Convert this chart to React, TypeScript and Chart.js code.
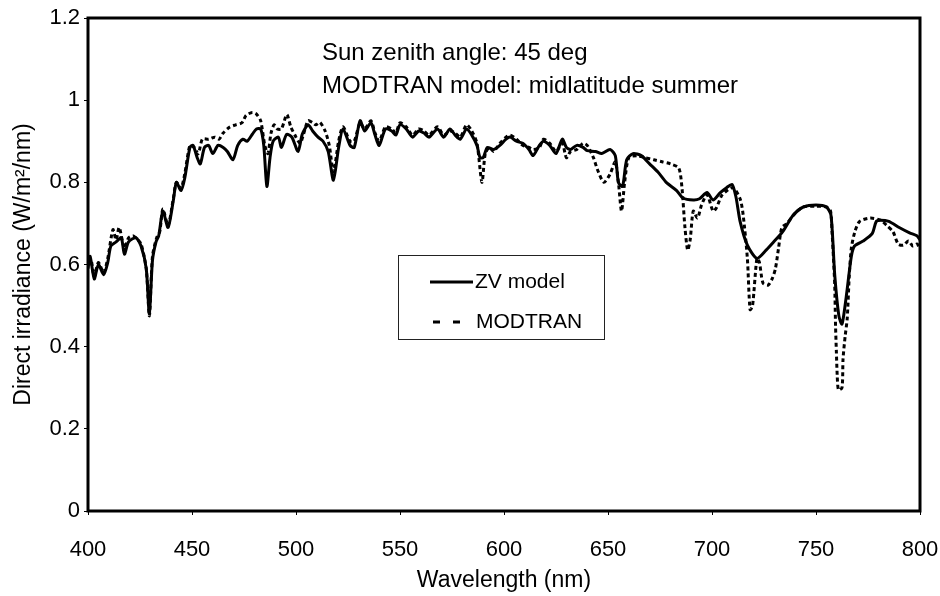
import React, { useEffect, useRef } from "react";
import { Chart, registerables } from "chart.js";

Chart.register(...registerables);

// ZV model (solid line)
const zvWavelength = [
  400, 401, 403, 405, 407.5, 409.5, 411, 413.5, 416, 417.5, 419.5, 423, 425.5, 428, 429.5, 431, 432.7, 434, 436, 438.5,
  441, 442.5, 444.7, 446.5, 449, 450.5, 452.5, 454, 456, 458, 460, 462.5, 465, 467, 469.7, 472, 474.5, 476.5, 479, 481,
  483, 484.5, 486, 487.5, 489, 491.5, 493, 495.5, 498, 501, 503, 505.8, 508, 510.6, 513, 515.5, 518, 520.5, 522.6, 526,
  528, 530.8, 533, 536, 538, 540, 543, 546, 548, 550, 553, 556, 559, 561.5, 564, 568, 571, 574, 576.5, 579,
  582, 584.5, 587, 588.5, 590, 592, 595, 598, 601, 603, 606, 609, 612, 614, 617, 619, 622, 625, 628, 630,
  632, 635, 638, 640, 644, 647, 651, 653.5, 655, 657, 659, 662, 666, 670, 674, 678, 683, 686, 691, 694,
  697.6, 700.5, 704, 707, 709.6, 711.5, 713.5, 717, 721.6, 726, 730, 734, 739, 744, 750, 755, 757.2, 759, 761, 762.5,
  764.5, 767, 768.5, 772.6, 777, 779, 781, 785, 790, 795, 798.5, 800,
];
const zvIrradiance = [
  0.59, 0.62, 0.565, 0.6, 0.575, 0.605, 0.645, 0.655, 0.665, 0.625, 0.655, 0.665, 0.645, 0.59, 0.48, 0.61, 0.655, 0.67, 0.73, 0.69,
  0.755, 0.8, 0.78, 0.81, 0.885, 0.89, 0.86, 0.845, 0.885, 0.89, 0.87, 0.89, 0.885, 0.875, 0.855, 0.89, 0.905, 0.9, 0.917, 0.93,
  0.93, 0.89, 0.79, 0.86, 0.9, 0.91, 0.885, 0.917, 0.91, 0.875, 0.917, 0.94, 0.925, 0.91, 0.9, 0.875, 0.805, 0.885, 0.93, 0.89,
  0.885, 0.95, 0.925, 0.945, 0.915, 0.89, 0.93, 0.925, 0.915, 0.94, 0.93, 0.91, 0.925, 0.92, 0.91, 0.93, 0.91, 0.93, 0.915, 0.905,
  0.93, 0.915, 0.89, 0.86, 0.86, 0.885, 0.88, 0.89, 0.905, 0.91, 0.9, 0.895, 0.88, 0.865, 0.89, 0.9, 0.89, 0.87, 0.905, 0.885,
  0.88, 0.89, 0.885, 0.877, 0.875, 0.87, 0.88, 0.865, 0.8, 0.79, 0.855, 0.87, 0.865, 0.845, 0.825, 0.8, 0.78, 0.762, 0.757, 0.76,
  0.775, 0.757, 0.775, 0.787, 0.795, 0.765, 0.705, 0.647, 0.615, 0.635, 0.657, 0.68, 0.72, 0.74, 0.745, 0.74, 0.72, 0.575, 0.475, 0.455,
  0.52, 0.62, 0.645, 0.657, 0.675, 0.705, 0.708, 0.705, 0.69, 0.677, 0.67, 0.66,
];

// MODTRAN (dashed line)
const modWavelength = [
  400, 401.5, 403, 405, 407.5, 409.5, 412, 413.5, 415, 417.5, 419.5, 421.6, 423, 425.5, 428, 429.5, 431, 433, 434.5, 436,
  438.5, 441, 442.5, 444.7, 446.5, 449, 451, 453, 455, 458, 461, 463, 465, 468, 471, 474, 476, 479, 481, 483,
  485, 486.5, 488, 489.5, 491, 493, 495.6, 497.5, 500, 502, 503.5, 505.8, 508, 509.5, 511.5, 514, 516, 518, 520.5, 522.6,
  526, 528, 530.8, 533, 536, 538, 540, 543, 546, 548, 550, 553, 556, 559, 561.5, 564, 568, 571, 574, 576.5,
  579, 582, 584.5, 587, 589.4, 591, 593, 595, 598, 601, 603, 606, 609, 612, 614, 617, 619, 622, 625, 628,
  630, 632, 635, 638, 640, 643, 645, 648, 651, 653.5, 655, 656.5, 658, 660, 664, 668, 672, 676, 680, 684,
  685.5, 687, 688.3, 689.5, 691, 693, 695, 697.6, 700.5, 702, 705, 710, 713.5, 715, 717, 718.3, 719.5, 721.6, 722.8, 724.5,
  727, 729, 730.5, 732, 733.6, 736, 740, 744, 750, 755, 757, 757.7, 758.4, 759, 759.4, 759.8, 760.2, 760.8, 762.5, 763,
  764, 765, 766, 767, 768.7, 771, 776, 781, 784, 787, 789.5, 792, 794.5, 796.6, 798.5, 800,
];
const modIrradiance = [
  0.6, 0.61, 0.57, 0.605, 0.58, 0.615, 0.685, 0.66, 0.69, 0.64, 0.665, 0.67, 0.665, 0.65, 0.59, 0.475, 0.62, 0.665, 0.68, 0.735,
  0.695, 0.76, 0.8, 0.785, 0.82, 0.89, 0.885, 0.87, 0.905, 0.905, 0.91, 0.905, 0.92, 0.934, 0.94, 0.945, 0.963, 0.97, 0.966, 0.95,
  0.89, 0.87, 0.92, 0.94, 0.93, 0.93, 0.965, 0.935, 0.91, 0.895, 0.915, 0.95, 0.945, 0.94, 0.946, 0.925, 0.89, 0.825, 0.9, 0.935,
  0.9, 0.9, 0.945, 0.93, 0.95, 0.92, 0.9, 0.935, 0.93, 0.92, 0.945, 0.935, 0.915, 0.93, 0.925, 0.915, 0.935, 0.915, 0.925, 0.92,
  0.91, 0.94, 0.925, 0.895, 0.8, 0.87, 0.885, 0.875, 0.895, 0.91, 0.915, 0.905, 0.89, 0.885, 0.88, 0.885, 0.905, 0.895, 0.875, 0.895,
  0.86, 0.875, 0.88, 0.895, 0.89, 0.86, 0.83, 0.8, 0.82, 0.85, 0.8, 0.73, 0.8, 0.86, 0.865, 0.86, 0.855, 0.85, 0.845, 0.835,
  0.79, 0.69, 0.635, 0.66, 0.73, 0.713, 0.745, 0.77, 0.73, 0.737, 0.77, 0.787, 0.76, 0.72, 0.615, 0.49, 0.5, 0.615, 0.605, 0.555,
  0.55, 0.566, 0.59, 0.64, 0.69, 0.7, 0.725, 0.74, 0.742, 0.74, 0.73, 0.68, 0.615, 0.55, 0.45, 0.387, 0.33, 0.295, 0.3, 0.37,
  0.425, 0.468, 0.573, 0.64, 0.68, 0.705, 0.713, 0.708, 0.695, 0.68, 0.65, 0.647, 0.657, 0.645, 0.65, 0.64,
];

const xTicks = [400, 450, 500, 550, 600, 650, 700, 750, 800];
const yTicks = [0, 0.2, 0.4, 0.6, 0.8, 1, 1.2];
const seriesNames = ["ZV model", "MODTRAN"];
const noteLines = ["Sun zenith angle: 45 deg", "MODTRAN model: midlatitude summer"];

const FONT = "'Liberation Sans', Arial, sans-serif";

const framePlugin = {
  id: "frameAndNotes",
  afterDraw(chart: any) {
    const { ctx, chartArea } = chart;
    const { left, top, right, bottom } = chartArea;
    ctx.save();
    // frame
    ctx.strokeStyle = "#000";
    ctx.lineWidth = 3;
    ctx.setLineDash([]);
    ctx.strokeRect(left, top, right - left, bottom - top);

    // notes
    ctx.fillStyle = "#000";
    ctx.font = `24px ${FONT}`;
    ctx.textBaseline = "alphabetic";
    ctx.textAlign = "left";
    ctx.fillText(noteLines[0], 322, 60);
    ctx.fillText(noteLines[1], 322, 93);

    // legend
    const lx = 398, ly = 255, lw = 206, lh = 84;
    ctx.lineWidth = 1;
    ctx.strokeStyle = "#222";
    ctx.strokeRect(lx + 0.5, ly + 0.5, lw, lh);
    ctx.font = `21px ${FONT}`;
    ctx.textBaseline = "middle";
    ctx.lineWidth = 3;
    ctx.strokeStyle = "#000";
    ctx.beginPath();
    ctx.moveTo(430, 282);
    ctx.lineTo(473, 282);
    ctx.stroke();
    ctx.fillText(seriesNames[0], 475, 282);
    ctx.setLineDash([7, 13]);
    ctx.beginPath();
    ctx.moveTo(433, 322);
    ctx.lineTo(473, 322);
    ctx.stroke();
    ctx.setLineDash([]);
    ctx.fillText(seriesNames[1], 476, 322);
    ctx.restore();
  },
};

export default function App() {
  const canvasRef = useRef<HTMLCanvasElement | null>(null);

  useEffect(() => {
    document.body.style.margin = "0";
    const canvas = canvasRef.current;
    if (!canvas) return;
    const chart = new Chart(canvas, {
      type: "line",
      data: {
        datasets: [
          {
            label: seriesNames[0],
            data: zvWavelength.map((x, i) => ({ x, y: zvIrradiance[i] })),
            borderColor: "#000",
            borderWidth: 3,
            pointRadius: 0,
            tension: 0.25,
            fill: false,
          },
          {
            label: seriesNames[1],
            data: modWavelength.map((x, i) => ({ x, y: modIrradiance[i] })),
            borderColor: "#000",
            borderWidth: 3,
            borderDash: [4, 3],
            pointRadius: 0,
            tension: 0.25,
            fill: false,
          },
        ],
      },
      options: {
        animation: false,
        responsive: false,
        maintainAspectRatio: false,
        layout: { padding: { top: 18, right: 20, left: 0, bottom: 0 } },
        plugins: {
          legend: { display: false },
          tooltip: { enabled: false },
        },
        scales: {
          x: {
            type: "linear",
            min: 400,
            max: 800,
            afterBuildTicks: (scale: any) => {
              scale.ticks = xTicks.map((v) => ({ value: v }));
            },
            afterFit: (scale: any) => {
              scale.height = 85;
              scale.paddingLeft = 0;
              scale.paddingRight = 0;
            },
            border: { display: false },
            grid: {
              display: true,
              drawOnChartArea: false,
              drawTicks: true,
              tickLength: 4,
              color: "#000",
              lineWidth: 1,
            },
            ticks: {
              color: "#000",
              font: { family: FONT, size: 22 },
              padding: 22,
              maxRotation: 0,
              callback: (v: any) => String(v),
            },
            title: {
              display: true,
              text: "Wavelength (nm)",
              color: "#000",
              font: { family: FONT, size: 23 },
              padding: { top: 0, bottom: 2 },
            },
          },
          y: {
            type: "linear",
            min: 0,
            max: 1.2,
            afterBuildTicks: (scale: any) => {
              scale.ticks = yTicks.map((v) => ({ value: v }));
            },
            afterFit: (scale: any) => {
              scale.width = 88;
              scale.paddingTop = 0;
              scale.paddingBottom = 0;
            },
            border: { display: false },
            grid: {
              display: true,
              drawOnChartArea: false,
              drawTicks: true,
              tickLength: 4,
              color: "#000",
              lineWidth: 1,
            },
            ticks: {
              color: "#000",
              font: { family: FONT, size: 22 },
              padding: 4,
              callback: (v: any) => String(Number(Number(v).toFixed(1))),
            },
            title: {
              display: true,
              text: "Direct irradiance (W/m²/nm)",
              color: "#000",
              font: { family: FONT, size: 23 },
              padding: { top: 10, bottom: 0 },
            },
          },
        },
      },
      plugins: [framePlugin],
    });
    return () => chart.destroy();
  }, []);

  return (
    <div style={{ width: 940, height: 596, position: "relative", background: "#fff" }}>
      <canvas ref={canvasRef} width={940} height={596} style={{ display: "block" }} />
    </div>
  );
}
